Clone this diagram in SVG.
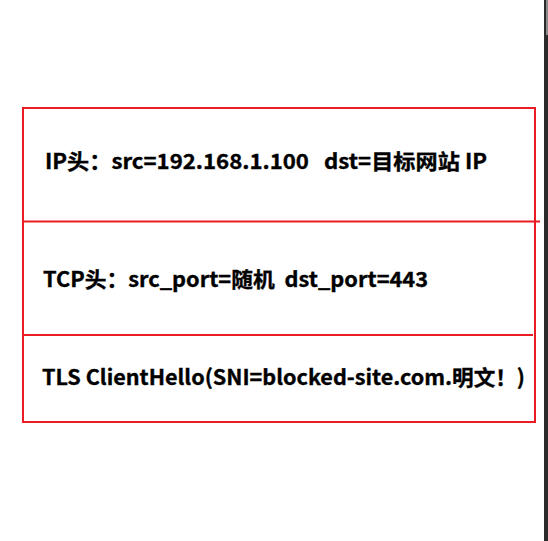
<svg xmlns="http://www.w3.org/2000/svg" width="548" height="541" viewBox="0 0 548 541">
<style>
.box{fill:none;stroke:#ec1c24;stroke-width:2}
.sep{stroke:#ec1c24;stroke-width:2}
.t{font-family:"Noto Sans CJK SC","Microsoft YaHei","Liberation Sans",sans-serif;font-weight:700;font-size:21px;fill:#000;stroke:#000;stroke-width:0.35;white-space:pre}
</style>
<rect width="548" height="541" fill="#fff"/>
<g id="scrollbar">
<rect x="544" y="0" width="4" height="541" fill="#2b2b2b"/>
<rect x="546" y="0" width="2" height="35" fill="#8a8a8a"/>
</g>
<g id="frame">
<rect class="box" x="23" y="108" width="512" height="314"/>
</g>
<g id="connectors">
<line class="sep" x1="24" y1="221.5" x2="540" y2="221.5"/>
<line class="sep" x1="23" y1="335" x2="533" y2="335"/>
</g>
<g id="ip-header">
<text class="t" x="45" y="169" textLength="442" lengthAdjust="spacingAndGlyphs" xml:space="preserve">IP头：src=192.168.1.100   dst=目标网站 IP</text>
</g>
<g id="tcp-header">
<text class="t" x="43" y="287" textLength="385" lengthAdjust="spacingAndGlyphs" xml:space="preserve">TCP头：src_port=随机  dst_port=443</text>
</g>
<g id="tls-hello">
<text class="t" x="42" y="385" textLength="483" lengthAdjust="spacingAndGlyphs" xml:space="preserve">TLS ClientHello(SNI=blocked-site.com.明文！)</text>
</g>
</svg>
